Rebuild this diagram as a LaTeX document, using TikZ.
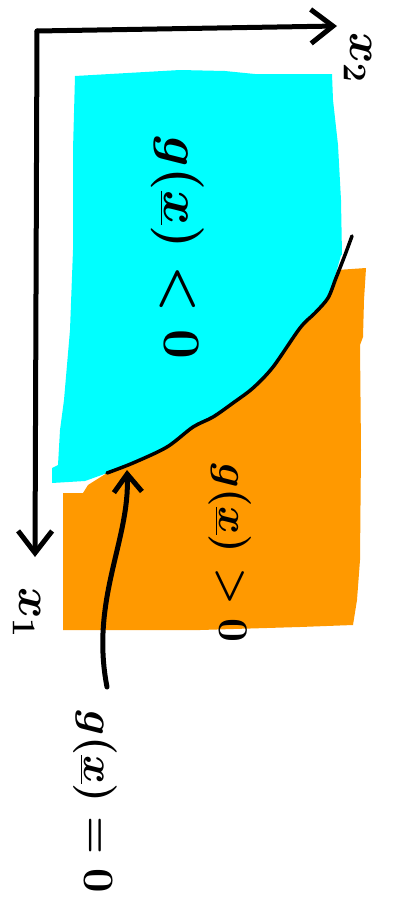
\documentclass[tikz,border=0pt]{standalone}
\usepackage{graphicx}
\usetikzlibrary{arrows.meta}
\definecolor{regcyan}{RGB}{0,255,255}
\definecolor{regorange}{RGB}{255,153,0}
\newcommand{\bigmath}[2]{\scalebox{#1}{$#2$}}
\tikzset{
  axisline/.style={line width=5pt, line cap=round, line join=round,
    -{Straight Barb[length=22pt,width=34pt,line width=5pt]}},
  pointer/.style={line width=5pt, line cap=round,
    -{Straight Barb[length=18pt,width=28pt,line width=5pt]}},
  boundary/.style={line width=3.5pt, line cap=round, black},
  rlabel/.style={rotate=-90, inner sep=0pt, text=black, font={\fontsize{20}{20}\selectfont\boldmath}},
}
\begin{document}
\begin{tikzpicture}[x=1pt,y=-1pt]
\useasboundingbox (0,0) rectangle (392,900);
% cyan region g<0
\fill[regcyan] (75,76) -- (110,74) -- (145,72) -- (180,70) -- (225,71) -- (255,74) -- (290,74) -- (332,74)
  -- (333,100) -- (338,145) -- (341,200) -- (342,255)
  -- plot[smooth] coordinates {(341,255) (328,298) (315,313) (300,328) (273,367) (253,388) (233,403) (213,417) (193,427) (167,447) (133,463) (107,473) (85,481)}
  -- (52,483) -- (52,468) -- (58,465) -- (60,430) -- (64,400) -- (70,330) -- (73,250) -- (73,150) -- cycle;
% orange region g>0
\fill[regorange] (337,270) -- (366,268) -- (364,300) -- (363,337) -- (360,345) -- (361,450) -- (360,560) -- (357,600) -- (353,625)
  -- (300,627) -- (200,630) -- (63,630) -- (63,493) -- (83,493) -- (88,485)
  -- plot[smooth] coordinates {(107,473) (133,463) (167,447) (193,427) (213,417) (233,403) (253,388) (273,367) (300,328) (315,313) (328,298)}
  -- (335,285) -- cycle;
% boundary g=0
\draw[boundary] plot[smooth] coordinates {(352,236) (345,255) (336,278) (328,298) (315,313) (300,328) (273,367) (253,388) (233,403) (213,417) (193,427) (167,447) (133,463) (107,473)};
% axes
\coordinate (origin) at (37,31);
\coordinate (x2end) at (337,26);
\coordinate (x1end) at (35,557);
\draw[axisline] (origin) -- (x2end);
\draw[axisline] (origin) -- (x1end);
\node[rlabel] (x2lab) at (358,58) {\bigmath{2.3}{x_2}};
\node[rlabel] (x1lab) at (27,613) {\bigmath{2.3}{x_1}};
% region labels
\node[rlabel] (neg) at (178,248) {\bigmath{2.55}{g(\underline{x})<0}};
\node[rlabel] (pos) at (230,553) {\bigmath{2.05}{g(\underline{x})>0}};
\node[rlabel] (zero) at (95,802) {\bigmath{2.1}{g(\underline{x})=0}};
% pointer to boundary
\coordinate (ptrstart) at (107,687);
\coordinate (ptrtip) at (127,470);
\draw[pointer] (ptrstart) .. controls (90,600) and (130,540) .. (ptrtip);
\end{tikzpicture}
\end{document}
